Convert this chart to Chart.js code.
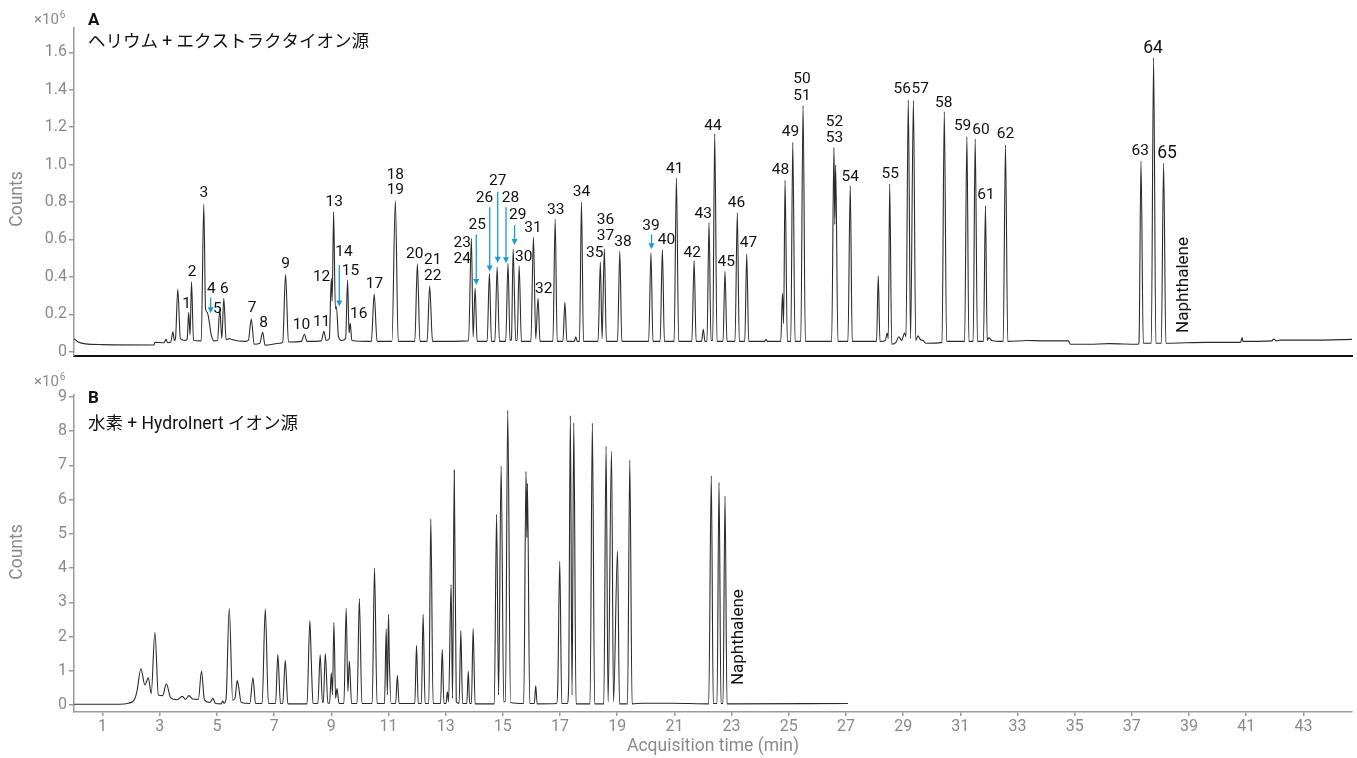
<!DOCTYPE html>
<html><head><meta charset="utf-8">
<script src="https://cdn.jsdelivr.net/npm/chart.js@4.4.1/dist/chart.umd.min.js"></script>
<style>
html,body{margin:0;padding:0;background:#fff;}
#wrap{position:relative;width:1357px;height:758px;overflow:hidden;background:#fff;}
canvas{position:absolute;left:0;}
#cA{top:0;} #cB{top:362px;}
</style></head><body>
<div id="wrap"><canvas id="cA" width="1357" height="370"></canvas><canvas id="cB" width="1357" height="396"></canvas></div>
<script>
// ---- Panel A: helium + extractor source, [time (min), counts (x10^6)] ----
const heliumTrace = [
[0.0,0.070],[0.15,0.052],[0.4,0.042],[1.0,0.038],[2.8,0.036],[2.83,0.050],[3.15,0.048],[3.22,0.066],[3.27,0.048],
[3.38,0.050],[3.46,0.107],[3.51,0.060],[3.55,0.070],[3.63,0.334],[3.72,0.070],[3.9,0.060],[3.96,0.070],[4.01,0.210],
[4.06,0.090],[4.11,0.373],[4.18,0.060],[4.45,0.058],[4.54,0.788],[4.6,0.230],[4.66,0.210],[4.72,0.170],[4.8,0.090],
[4.9,0.058],[5.02,0.060],[5.10,0.228],[5.17,0.070],[5.24,0.285],[5.32,0.065],[5.45,0.070],[5.52,0.065],[6.0,0.055],
[6.1,0.060],[6.20,0.175],[6.3,0.040],[6.5,0.045],[6.60,0.104],[6.68,0.035],[7.2,0.045],[7.3,0.050],[7.40,0.414],
[7.5,0.052],[7.95,0.055],[8.06,0.093],[8.15,0.055],[8.65,0.058],[8.74,0.109],[8.82,0.060],[8.93,0.070],[9.00,0.392],
[9.03,0.270],[9.08,0.749],[9.14,0.230],[9.18,0.240],[9.25,0.080],[9.35,0.060],[9.5,0.070],[9.57,0.383],[9.62,0.100],
[9.66,0.152],[9.72,0.060],[10.4,0.055],[10.50,0.308],[10.6,0.055],[11.12,0.055],[11.24,0.807],[11.34,0.055],
[11.92,0.055],[12.01,0.470],[12.1,0.055],[12.35,0.055],[12.44,0.351],[12.54,0.055],[13.8,0.058],[13.90,0.606],
[13.96,0.080],[14.03,0.339],[14.1,0.055],[14.45,0.055],[14.53,0.419],[14.6,0.055],[14.72,0.055],[14.80,0.453],
[14.88,0.055],[15.1,0.055],[15.18,0.473],[15.25,0.060],[15.3,0.065],[15.36,0.547],[15.45,0.060],[15.5,0.060],
[15.57,0.458],[15.65,0.055],[15.98,0.055],[16.07,0.611],[16.15,0.070],[16.23,0.285],[16.3,0.055],[16.75,0.055],
[16.83,0.709],[16.9,0.055],[17.1,0.055],[17.17,0.264],[17.24,0.055],[17.5,0.055],[17.55,0.080],[17.6,0.055],
[17.68,0.055],[17.75,0.800],[17.82,0.055],[18.33,0.055],[18.41,0.479],[18.47,0.070],[18.55,0.550],[18.62,0.055],
[19.01,0.055],[19.09,0.537],[19.16,0.055],[20.1,0.055],[20.18,0.529],[20.25,0.055],[20.5,0.055],[20.58,0.544],
[20.65,0.055],[20.99,0.055],[21.07,0.928],[21.15,0.055],[21.61,0.055],[21.69,0.487],[21.76,0.055],[21.95,0.055],
[22.01,0.120],[22.07,0.055],[22.14,0.055],[22.21,0.690],[22.28,0.060],[22.34,0.060],[22.41,1.164],[22.49,0.055],
[22.7,0.055],[22.77,0.430],[22.84,0.055],[23.12,0.055],[23.20,0.743],[23.27,0.055],[23.46,0.055],[23.53,0.522],
[23.6,0.055],[24.15,0.055],[24.2,0.065],[24.25,0.055],[24.72,0.055],[24.78,0.312],[24.82,0.150],[24.87,0.916],
[24.95,0.055],[25.07,0.055],[25.14,1.119],[25.22,0.055],[25.42,0.055],[25.50,1.315],[25.58,0.055],[26.5,0.055],
[26.58,1.092],[26.61,0.680],[26.64,0.998],[26.72,0.055],[27.07,0.055],[27.15,0.886],[27.22,0.055],[28.07,0.055],
[28.13,0.405],[28.19,0.055],[28.38,0.060],[28.44,0.100],[28.48,0.070],[28.53,0.896],[28.6,0.040],[28.75,0.050],
[28.85,0.080],[28.95,0.060],[29.05,0.100],[29.1,0.080],[29.18,1.345],[29.26,0.070],[29.36,1.342],[29.44,0.060],
[29.52,0.085],[29.6,0.065],[29.7,0.060],[29.8,0.045],[30.36,0.050],[30.44,1.283],[30.52,0.055],[31.15,0.055],
[31.23,1.149],[31.3,0.055],[31.45,0.055],[31.52,1.137],[31.6,0.055],[31.81,0.055],[31.88,0.779],[31.94,0.060],
[32.0,0.075],[32.1,0.060],[32.5,0.055],[32.58,1.105],[32.66,0.055],[33.36,0.060],[33.9,0.058],[34.78,0.058],
[34.85,0.040],[35.5,0.040],[36.2,0.043],[37.22,0.040],[37.25,0.050],[37.32,1.019],[37.4,0.045],[37.68,0.045],
[37.76,1.571],[37.84,0.045],[38.03,0.045],[38.11,1.007],[38.19,0.045],[39.6,0.050],[40.8,0.050],[40.86,0.075],
[40.88,0.055],[41.9,0.058],[41.96,0.068],[42.05,0.058],[42.2,0.062],[43.5,0.062],[44.7,0.066]
];
// ---- Panel B: hydrogen + HydroInert source ----
const hydrogenTrace = [
[0.0,0.03],[1.6,0.03],[1.9,0.06],[2.1,0.15],[2.2,0.40],[2.34,1.065],[2.48,0.59],[2.60,0.80],[2.7,0.34],[2.83,2.13],
[2.95,0.30],[3.1,0.28],[3.23,0.625],[3.38,0.22],[3.6,0.16],[3.79,0.26],[3.9,0.17],[4.02,0.28],[4.15,0.18],[4.35,0.17],
[4.46,1.00],[4.56,0.16],[4.75,0.08],[4.86,0.20],[4.95,0.05],[5.15,0.04],[5.2,0.12],[5.25,0.06],[5.32,0.20],[5.43,2.83],
[5.55,0.15],[5.63,0.20],[5.71,0.72],[5.75,0.58],[5.85,0.08],[6.15,0.05],[6.26,0.80],[6.35,0.05],[6.58,0.05],[6.69,2.81],
[6.8,0.05],[7.05,0.05],[7.13,1.476],[7.22,0.05],[7.3,0.05],[7.39,1.31],[7.48,0.04],[8.15,0.04],[8.25,2.47],[8.30,1.27],
[8.36,0.06],[8.53,0.05],[8.61,1.476],[8.69,0.08],[8.72,0.08],[8.79,1.506],[8.88,0.06],[8.94,0.06],[9.00,0.95],[9.04,0.30],
[9.09,2.41],[9.15,0.20],[9.20,0.49],[9.27,0.05],[9.44,0.05],[9.52,2.83],[9.58,0.40],[9.63,1.29],[9.71,0.05],[9.9,0.05],
[9.98,3.11],[10.07,0.05],[10.43,0.05],[10.51,4.00],[10.6,0.05],[10.86,0.05],[10.92,2.23],[10.96,0.30],[11.00,2.65],
[11.03,1.32],[11.09,0.05],[11.25,0.05],[11.31,0.87],[11.37,0.05],[11.92,0.05],[11.98,1.75],[12.04,0.05],[12.15,0.05],
[12.21,2.65],[12.28,0.05],[12.41,0.05],[12.48,5.43],[12.56,0.05],[12.82,0.05],[12.88,1.63],[12.94,0.05],[13.01,0.05],
[13.06,0.39],[13.1,0.10],[13.19,3.52],[13.24,0.20],[13.30,6.86],[13.37,0.10],[13.47,0.05],[13.53,2.18],[13.59,0.05],
[13.74,0.05],[13.79,0.99],[13.84,0.05],[13.9,0.05],[13.96,2.23],[14.03,0.04],[14.7,0.04],[14.78,5.57],[14.85,0.30],
[14.94,6.98],[15.03,0.10],[15.09,0.10],[15.17,8.60],[15.27,0.08],[15.73,0.05],[15.81,6.82],[15.84,4.89],[15.86,6.47],
[15.94,0.05],[16.1,0.05],[16.15,0.57],[16.2,0.04],[16.88,0.05],[16.92,0.50],[16.99,4.20],[17.06,0.05],[17.25,0.05],
[17.30,0.53],[17.36,8.45],[17.42,0.30],[17.48,8.24],[17.56,0.04],[18.05,0.04],[18.13,8.23],[18.21,0.04],[18.53,0.04],
[18.61,7.55],[18.68,0.10],[18.80,7.41],[18.87,0.10],[19.01,4.50],[19.08,0.04],[19.36,0.04],[19.44,7.15],[19.52,0.04],
[19.9,0.06],[20.9,0.06],[22.2,0.04],[22.29,6.69],[22.36,0.05],[22.49,0.05],[22.56,6.50],[22.63,0.05],[22.7,0.05],
[22.77,6.10],[22.84,0.04],[27.07,0.05]
];
// Tick labels
const xTicks = [1,3,5,7,9,11,13,15,17,19,21,23,25,27,29,31,33,35,37,39,41,43];
const yTicksA = [0,0.2,0.4,0.6,0.8,1.0,1.2,1.4,1.6];
const yTicksB = [0,1,2,3,4,5,6,7,8,9];
// Peak labels in panel A: [text, time, counts]
const peakLabelsA = [
['1',3.94,0.255],['2',4.13,0.425],['3',4.54,0.847],['4',4.80,0.334],['5',5.01,0.227],['6',5.26,0.337],['7',6.23,0.232],
['8',6.63,0.155],['9',7.40,0.467],['10',7.96,0.143],['11',8.66,0.157],['12',8.66,0.396],['13',9.10,0.799],['14',9.44,0.531],
['15',9.67,0.428],['16',9.96,0.200],['17',10.51,0.360],['18',11.24,0.946],['19',11.24,0.861],['20',11.92,0.522],
['21',12.55,0.489],['22',12.55,0.405],['23',13.58,0.580],['24',13.58,0.494],['25',14.10,0.677],['26',14.36,0.823],
['27',14.82,0.909],['28',15.27,0.823],['29',15.52,0.731],['30',15.73,0.503],['31',16.05,0.660],['32',16.43,0.337],
['33',16.85,0.758],['34',17.75,0.855],['35',18.21,0.526],['36',18.59,0.704],['37',18.59,0.619],['38',19.20,0.585],
['39',20.18,0.672],['40',20.72,0.597],['41',21.01,0.975],['42',21.62,0.529],['43',22.01,0.734],['44',22.35,1.207],
['45',22.81,0.478],['46',23.17,0.795],['47',23.59,0.580],['48',24.71,0.968],['49',25.06,1.173],['50',25.46,1.456],
['51',25.46,1.368],['52',26.60,1.228],['53',26.60,1.144],['54',27.15,0.935],['55',28.55,0.950],['56',28.97,1.402],
['57',29.60,1.402],['58',30.42,1.331],['59',31.08,1.206],['60',31.72,1.185],['61',31.90,0.838],['62',32.58,1.164],
['63',37.29,1.074]
];
const bigLabelsA = [['64',37.74,1.621],['65',38.23,1.057]];
// Arrows in panel A: [time, from counts, to counts]
const arrowsA = [[4.78,0.289,0.205],[9.28,0.464,0.241],[14.07,0.627,0.357],[14.54,0.772,0.428],[14.82,0.855,0.476],
[15.11,0.772,0.473],[15.41,0.677,0.570],[20.20,0.627,0.548]];
const naphA = [38.80,0.10];
const naphB = [23.24,0.587];

const GRAY='#8a8a8a', FONT='Roboto, "Noto Sans CJK JP", sans-serif';
const toPts = tr => tr.map(p=>({x:p[0],y:p[1]}));

function drawExp(ctx,x,y){
  ctx.save();ctx.fillStyle=GRAY;ctx.textBaseline='middle';ctx.textAlign='left';
  ctx.font='15px '+FONT;ctx.fillText('×10',x,y+2);
  const w=ctx.measureText('×10').width;
  ctx.font='10px '+FONT;ctx.fillText('6',x+w+1,y-3);ctx.restore();
}
function drawCounts(ctx,x,y){
  ctx.save();ctx.translate(x,y);ctx.rotate(-Math.PI/2);ctx.fillStyle=GRAY;ctx.font='17.5px '+FONT;
  ctx.textAlign='center';ctx.textBaseline='middle';ctx.fillText('Counts',0,0);ctx.restore();
}
function drawNaph(ctx,x,y){
  ctx.save();ctx.translate(x,y);ctx.rotate(-Math.PI/2);ctx.fillStyle='#111';ctx.font='17px '+FONT;
  ctx.textAlign='left';ctx.textBaseline='middle';ctx.fillText('Naphthalene',0,0);ctx.restore();
}

const overlayA = {id:'overlayA', afterDraw(chart){
  const ctx=chart.ctx, xs=chart.scales.x, ys=chart.scales.y;
  ctx.save();
  ctx.fillStyle='#111';ctx.textAlign='center';ctx.textBaseline='middle';
  ctx.font='15.5px '+FONT;
  peakLabelsA.forEach(l=>ctx.fillText(l[0],xs.getPixelForValue(l[1]),ys.getPixelForValue(l[2])));
  ctx.font='17.5px '+FONT;
  bigLabelsA.forEach(l=>ctx.fillText(l[0],xs.getPixelForValue(l[1]),ys.getPixelForValue(l[2])));
  ctx.strokeStyle='#1b9ad8';ctx.fillStyle='#1b9ad8';ctx.lineWidth=1.3;
  arrowsA.forEach(a=>{
    const x=xs.getPixelForValue(a[0]), y0=ys.getPixelForValue(a[1]), y1=ys.getPixelForValue(a[2]);
    ctx.beginPath();ctx.moveTo(x,y0);ctx.lineTo(x,y1-5);ctx.stroke();
    ctx.beginPath();ctx.moveTo(x-3,y1-6);ctx.lineTo(x+3,y1-6);ctx.lineTo(x,y1);ctx.closePath();ctx.fill();
  });
  drawNaph(ctx,xs.getPixelForValue(naphA[0]),ys.getPixelForValue(naphA[1]));
  ctx.fillStyle='#111';ctx.textAlign='left';ctx.textBaseline='middle';
  ctx.font='bold 17px '+FONT;ctx.fillText('A',88,21);
  ctx.font='17.5px '+FONT;ctx.fillText('ヘリウム + エクストラクタイオン源',88,43);
  drawExp(ctx,34,18);
  drawCounts(ctx,18,199);
  ctx.restore();
}};
const overlayB = {id:'overlayB', afterDraw(chart){
  const ctx=chart.ctx, xs=chart.scales.x, ys=chart.scales.y;
  ctx.save();
  drawNaph(ctx,xs.getPixelForValue(naphB[0]),ys.getPixelForValue(naphB[1]));
  ctx.fillStyle='#111';ctx.textAlign='left';ctx.textBaseline='middle';
  ctx.font='bold 17px '+FONT;ctx.fillText('B',88,37);
  ctx.font='17.5px '+FONT;ctx.fillText('水素 + HydroInert イオン源',88,63);
  drawExp(ctx,34,18);
  drawCounts(ctx,18,190);
  ctx.fillStyle=GRAY;ctx.textAlign='center';ctx.font='17.5px '+FONT;
  ctx.fillText('Acquisition time (min)',713,385);
  ctx.restore();
}};

function yScale(min,max,ticks,fmt){
  return {type:'linear',min:min,max:max,
    afterFit(s){s.width=74;},
    afterBuildTicks(s){s.ticks=ticks.map(v=>({value:v}));},
    grid:{display:true,drawOnChartArea:false,drawTicks:true,tickLength:5,color:'#9a9a9a',lineWidth:1.5},
    border:{display:true,color:'#9a9a9a',width:1.5},
    ticks:{padding:2,color:GRAY,font:{family:FONT,size:16},callback:fmt}};
}
const baseDs = {borderColor:'#2b2b2b',borderWidth:1.1,pointRadius:0,cubicInterpolationMode:'monotone',fill:false};

new Chart(document.getElementById('cA'),{
  type:'line',
  data:{datasets:[Object.assign({data:toPts(heliumTrace)},baseDs)]},
  options:{responsive:false,animation:false,events:[],
    layout:{padding:{top:28,right:5,left:0,bottom:0}},
    plugins:{legend:{display:false},tooltip:{enabled:false}},
    scales:{
      x:{type:'linear',min:0,max:44.7,afterFit(s){s.height=14;},
        ticks:{display:false},grid:{display:false},border:{display:true,color:'#111',width:2}},
      y:yScale(-0.023,1.73,yTicksA,v=>v===0?'0':v.toFixed(1))
    }},
  plugins:[overlayA]
});
new Chart(document.getElementById('cB'),{
  type:'line',
  data:{datasets:[Object.assign({data:toPts(hydrogenTrace)},baseDs)]},
  options:{responsive:false,animation:false,events:[],
    layout:{padding:{top:33,right:5,left:0,bottom:0}},
    plugins:{legend:{display:false},tooltip:{enabled:false}},
    scales:{
      x:{type:'linear',min:0,max:44.7,afterFit(s){s.height=46;},
        afterBuildTicks(s){s.ticks=xTicks.map(v=>({value:v}));},
        grid:{display:true,drawOnChartArea:false,drawTicks:true,tickLength:4,color:'#9a9a9a',lineWidth:1.5},
        border:{display:true,color:'#9a9a9a',width:1.5},
        ticks:{padding:1,color:GRAY,maxRotation:0,autoSkip:false,font:{family:FONT,size:16},callback:v=>String(v)}},
      y:yScale(-0.197,9.05,yTicksB,v=>String(v))
    }},
  plugins:[overlayB]
});
</script>
</body></html>
